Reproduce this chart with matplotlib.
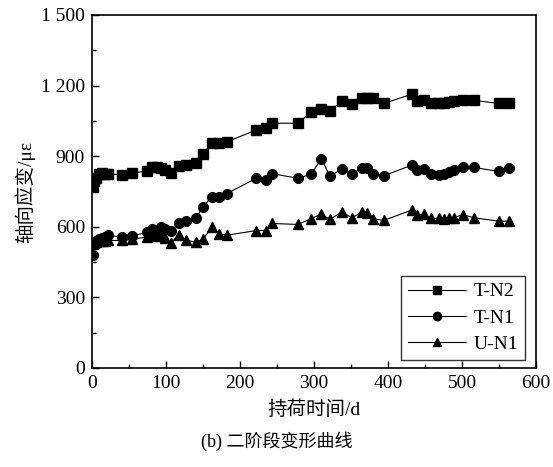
import matplotlib
matplotlib.use("Agg")
import matplotlib.pyplot as plt
from matplotlib.ticker import MultipleLocator, FuncFormatter

days = [1, 3, 6, 9, 13, 17, 22, 40, 54, 74, 81, 88, 93, 99, 107, 117, 127, 140, 150,
        162, 172, 182, 222, 235, 243, 278, 296, 310, 321, 338, 351, 365, 372, 379,
        394, 432, 439, 448, 458, 469, 476, 482, 489, 501, 516, 550, 563]

t_n2 = [767, 795, 809, 823, 827, 826, 823, 822, 829, 836, 854, 852, 851, 840, 830, 858,
        862, 871, 910, 958, 955, 961, 1011, 1018, 1040, 1040, 1086, 1100, 1092, 1133,
        1120, 1147, 1147, 1147, 1124, 1163, 1136, 1140, 1126, 1124, 1124, 1131, 1133,
        1140, 1137, 1124, 1124]

t_n1 = [482, 525, 539, 549, 553, 556, 563, 557, 560, 577, 589, 584, 600, 589, 582, 617,
        624, 636, 684, 728, 728, 741, 806, 797, 826, 806, 823, 890, 816, 845, 823, 851,
        849, 826, 816, 862, 842, 847, 826, 822, 826, 833, 840, 856, 852, 835, 849]

u_n1 = [525, 532, 536, 539, 540, 541, 542, 542, 546, 557, 562, 567, 560, 553, 532, 567,
        543, 535, 546, 600, 570, 564, 584, 584, 614, 610, 634, 655, 631, 663, 638, 663,
        657, 634, 627, 671, 648, 655, 636, 636, 634, 638, 638, 652, 638, 624, 624]

series_labels = ["T-N2", "T-N1", "U-N1"]
x_label = "持荷时间/d"
y_label = "轴向应变/με"
caption = "(b) 二阶段变形曲线"

plt.rcParams["font.family"] = ["Liberation Serif", "Noto Sans CJK SC", "DejaVu Sans"]

fig = plt.figure(figsize=(5.53, 4.67), dpi=100)
ax = fig.add_axes([0.1664, 0.212, 0.803, 0.756])

ax.plot(days, t_n2, color="black", lw=0.8, marker="s", ms=6.5, label=series_labels[0])
ax.plot(days, t_n1, color="black", lw=0.8, marker="o", ms=7, label=series_labels[1])
ax.plot(days, u_n1, color="black", lw=0.8, marker="^", ms=7.5, label=series_labels[2])

ax.set_xlim(0, 600)
ax.set_ylim(0, 1500)
ax.xaxis.set_major_locator(MultipleLocator(100))
ax.xaxis.set_minor_locator(MultipleLocator(50))
ax.yaxis.set_major_locator(MultipleLocator(300))
ax.yaxis.set_minor_locator(MultipleLocator(150))

def fmt(v, pos):
    v = int(round(v))
    if v >= 1000:
        return f"{v // 1000} {v % 1000:03d}"
    return str(v)

ax.yaxis.set_major_formatter(FuncFormatter(fmt))
ax.tick_params(which="both", direction="in", top=False, right=False)
ax.tick_params(which="major", length=5, width=1, labelsize=14, pad=5)
ax.tick_params(which="minor", length=3, width=1)
for sp in ax.spines.values():
    sp.set_linewidth(1.2)

ax.set_xlabel(x_label, fontsize=14, labelpad=6)
ax.set_ylabel(y_label, fontsize=14, labelpad=4)

leg = ax.legend(loc="lower right", frameon=True, fancybox=False, edgecolor="black",
                prop={"size": 14}, handlelength=3.0, borderpad=0.35,
                labelspacing=0.45, handletextpad=0.4, borderaxespad=0,
                bbox_to_anchor=(0.976, 0.023))
leg.get_frame().set_linewidth(1.0)
for h in leg.legend_handles:
    h.set_markersize(6)

fig.text(0.5, 0.055, caption, ha="center", va="center", fontsize=13)

fig.savefig("out.png", dpi=100)
